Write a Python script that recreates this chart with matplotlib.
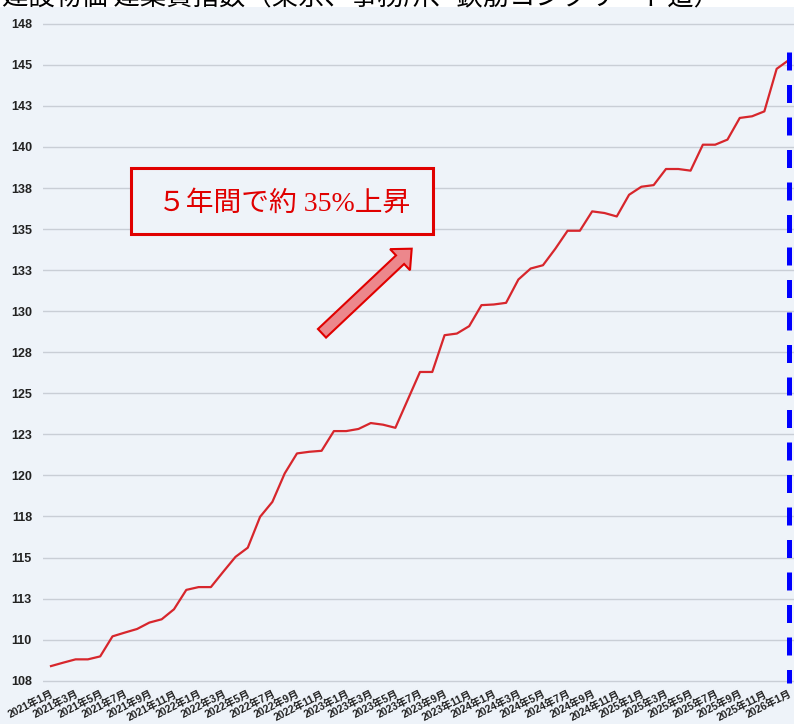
import numpy as np
import pandas as pd
import matplotlib.pyplot as plt
from matplotlib.patches import Rectangle, FancyArrow

# 建築費指数（月次, 2021年1月〜2026年1月）
months = pd.date_range('2021-01-01', '2026-01-01', freq='MS')
index_values = [
    108.39, 108.6, 108.8, 108.8, 108.98, 110.2, 110.43, 110.65, 111.04, 111.24,
    111.85, 113.03, 113.2, 113.2, 114.13, 115.04, 115.6, 117.48, 118.39, 120.12,
    121.34, 121.44, 121.5, 122.7, 122.7, 122.83, 123.19, 123.09, 122.9, 124.6,
    126.3, 126.3, 128.54, 128.64, 129.09, 130.37, 130.41, 130.51, 131.93, 132.6,
    132.8, 133.8, 134.9, 134.9, 136.08, 135.98, 135.77, 137.09, 137.58, 137.68,
    138.66, 138.66, 138.56, 140.14, 140.14, 140.45, 141.77, 141.87, 142.17, 144.76,
    145.3,
]
tick_pos = list(range(0, len(months), 2))
tick_labels = [f'{d.year}年{d.month}月' for d in months[::2]]
y_ticks = [107.5 + 2.5 * k for k in range(17)]
y_tick_labels = ['108', '110', '113', '115', '118', '120', '123', '125', '128',
                 '130', '133', '135', '138', '140', '143', '145', '148']
title = '建設物価 建築費指数（東京、事務所、鉄筋コンクリート造）'
note = '５年間で約 35%上昇'
marker_month = 60
marker_top = 145.8

bg = '#EEF3F9'
W, H = 794, 724

fig = plt.figure(figsize=(W / 100, H / 100), dpi=100, facecolor=bg)
ax = fig.add_axes([43 / W, 1 - 683 / H, 751 / W, 670 / H])
ax.set_facecolor(bg)

x = np.arange(len(index_values))
ax.plot(x, index_values, color='#D7262C', lw=1.6, zorder=3)
ax.plot([marker_month, marker_month], [marker_top, 107.36], color='#0000FF',
        lw=3.6, linestyle=(0, (3.6, 2.9)), solid_capstyle='butt', zorder=4, clip_on=False)

ax.set_xlim(-0.65, 60.41)
ax.set_ylim(107.36, 148.16)
ax.set_yticks(y_ticks)
ax.set_yticklabels(y_tick_labels, fontsize=9, fontweight='bold', color='#222222',
                   family='Liberation Sans')
ax.set_xticks(tick_pos)
ax.set_xticklabels(tick_labels, rotation=27, ha='right', va='top', rotation_mode='anchor',
                   fontsize=7.5, fontweight='bold', color='#222222',
                   family=['Liberation Sans', 'Noto Sans CJK JP'])
ax.tick_params(axis='y', length=0, pad=8)
ax.tick_params(axis='x', length=0, pad=4)
ax.grid(axis='y', color='#C9CED6', lw=1)
ax.set_axisbelow(True)
for s in ax.spines.values():
    s.set_visible(False)

# title strip (cut at the top edge, as in the source)
fig.patches.append(Rectangle((0, 1 - 7 / H), 1, 7 / H, transform=fig.transFigure,
                             fc='white', ec='none', zorder=0))
fig.text(2 / W, 1 - 5 / H, title, fontsize=19, family='Noto Sans CJK JP',
         color='black', va='baseline', ha='left', zorder=3)

# callout box and arrow (inches from bottom-left)
fig.patches.append(Rectangle((1.31, 4.90), 3.023, 0.657, transform=fig.dpi_scale_trans,
                             fc=bg, ec='#E00000', lw=2.2, zorder=5))
fig.text(2.845, 5.20, note, transform=fig.dpi_scale_trans, fontsize=20, color='#E00000',
         family=['Liberation Serif', 'Noto Sans CJK JP'], ha='center', va='center', zorder=6)
fig.patches.append(FancyArrow(3.22, 3.907, 0.897, 0.846, width=0.118, head_width=0.29,
                              head_length=0.16, length_includes_head=True,
                              transform=fig.dpi_scale_trans, fc='#EC878C', ec='#E00000',
                              lw=1.5, zorder=5))

fig.savefig('out.png', dpi=100, facecolor=bg)
